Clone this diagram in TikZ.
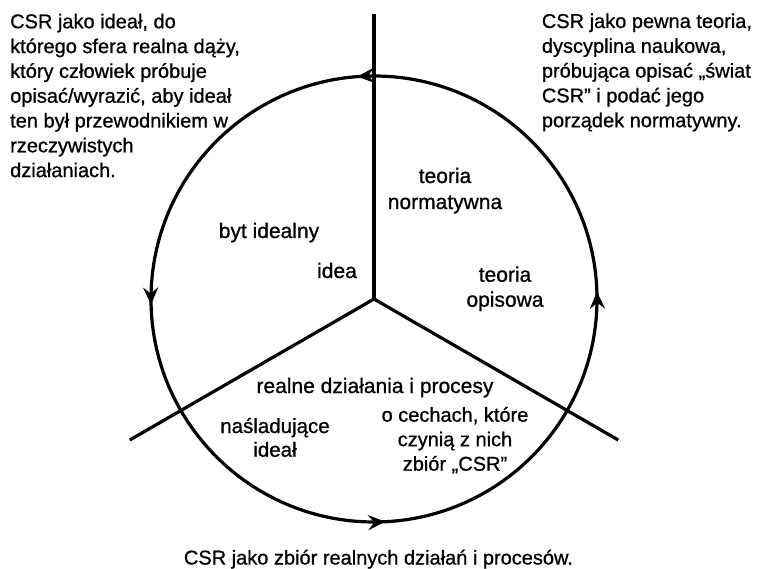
\documentclass[tikz,border=0pt]{standalone}
\usepackage{fontspec}
\setmainfont{Liberation Sans}[FakeBold=0.8]
\usetikzlibrary{arrows.meta,decorations.markings}
\begin{document}
\begin{tikzpicture}[x=1pt,y=1pt,
  >={Stealth[length=17pt,width=15pt,inset=6pt]},
  lbl/.style={inner sep=0pt, font=\fontsize{21}{25}\selectfont, align=center, anchor=base},
  side/.style={inner sep=0pt, font=\fontsize{20}{24.8}\selectfont, align=left, anchor=base west},
  ring/.style={line width=3.2pt, postaction={decorate}, decoration={markings,
    mark=at position 0.0052 with {\arrow{>}},
    mark=at position 0.2620 with {\arrow{>}},
    mark=at position 0.5040 with {\arrow{>}},
    mark=at position 0.7580 with {\arrow{>}}}},
  spoke/.style={line width=3.2pt}]
\useasboundingbox (0,0) rectangle (757,568);
\coordinate (C) at (374,269);
\path (C) ++(90:285) coordinate (T);
\path (C) ++(210:282) coordinate (L);
\path (C) ++(330:282) coordinate (R);
\draw[ring] (C) circle (223);
\draw[spoke] (C) -- (T);
\draw[spoke] (C) -- (L);
\draw[spoke] (C) -- (R);
\node[side] (tl) at (10,390.9) {CSR jako ideał, do\\którego sfera realna dąży,\\który człowiek próbuje\\opisać/wyrazić, aby ideał\\ten był przewodnikiem w\\rzeczywistych\\działaniach.};
\node[side] (tr) at (541.7,440.8) {CSR jako pewna teoria,\\dyscyplina naukowa,\\próbująca opisać „świat\\CSR” i podać jego\\porządek normatywny.};
\node[lbl, font=\fontsize{21}{26}\selectfont] (tn) at (445,359) {teoria\\normatywna};
\node[lbl] (bi) at (269,330) {byt idealny};
\node[lbl] (id) at (337,290) {idea};
\node[lbl] (to) at (505,261.3) {teoria\\opisowa};
\node[lbl] (rd) at (375,175) {realne działania i procesy};
\node[lbl, font=\fontsize{20}{24.5}\selectfont] (oc) at (455,97.3) {o cechach, które\\czynią z nich\\zbiór „CSR”};
\node[lbl, font=\fontsize{20.5}{23.7}\selectfont] (na) at (275,111.3) {naśladujące\\ideał};
\node[lbl, font=\fontsize{20}{24}\selectfont] (cap) at (378.5,3.5) {CSR jako zbiór realnych działań i procesów.};
\end{tikzpicture}
\end{document}
